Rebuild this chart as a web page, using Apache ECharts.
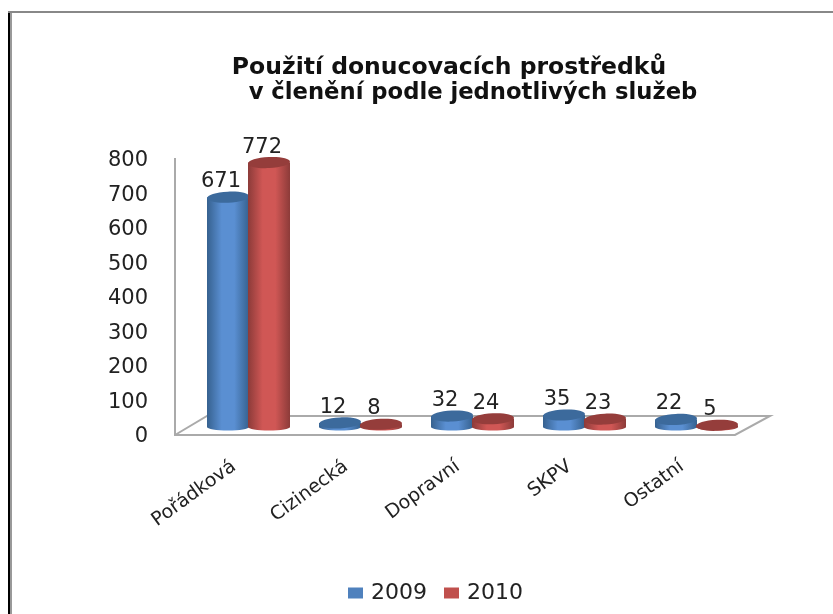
<!DOCTYPE html>
<html>
<head>
<meta charset="utf-8">
<style>
  html, body { margin: 0; padding: 0; background: #fff; }
  #chart { width: 833px; height: 614px; }
</style>
<script src="https://cdn.jsdelivr.net/npm/echarts@6/dist/echarts.min.js"></script>
</head>
<body>
<div id="chart"></div>
<script>
const categories = ['Pořádková', 'Cizinecká', 'Dopravní', 'SKPV', 'Ostatní'];
const values2009 = [671, 12, 32, 35, 22];
const values2010 = [772, 8, 24, 23, 5];
const yTicks = [0, 100, 200, 300, 400, 500, 600, 700, 800];

const textColor = '#222';
const fontName = '"DejaVu Sans", sans-serif';

// válec: tělo s gradientem, spodní a horní elipsa, popisek nad ním
function cylinder(offset, edge, mid, topColor) {
    return function (params, api) {
        const idx = api.value(0);
        const val = api.value(1);
        const base = api.coord([idx, 0]);
        const top = api.coord([idx, val]);
        const cx = base[0] + offset;
        const rx = 21;
        const ry = 5.5;
        const fill = new echarts.graphic.LinearGradient(0, 0, 1, 0, [
            { offset: 0, color: edge },
            { offset: 0.35, color: mid },
            { offset: 0.65, color: mid },
            { offset: 1, color: edge }
        ]);
        return {
            type: 'group',
            children: [
                {
                    type: 'rect',
                    shape: { x: cx - rx, y: top[1], width: rx * 2, height: base[1] - top[1] },
                    style: { fill: fill }
                },
                {
                    type: 'ellipse',
                    shape: { cx: cx, cy: base[1], rx: rx, ry: 3.5 },
                    style: { fill: fill }
                },
                {
                    type: 'ellipse',
                    shape: { cx: cx, cy: top[1], rx: rx, ry: ry },
                    rotation: 0.05,
                    originX: cx,
                    originY: top[1],
                    style: { fill: topColor }
                },
                {
                    type: 'text',
                    style: {
                        x: cx - 7,
                        y: top[1] - 5,
                        text: String(val),
                        fill: textColor,
                        font: '21px ' + fontName,
                        align: 'center',
                        verticalAlign: 'bottom'
                    }
                }
            ]
        };
    };
}

const chart = echarts.init(document.getElementById('chart'));
const option = {
    backgroundColor: '#fff',
    animation: false,
    title: [
        {
            text: 'Použití donucovacích prostředků',
            left: 444,
            top: 51,
            textAlign: 'center',
            textStyle: { color: '#111', fontFamily: fontName, fontWeight: 'bold', fontSize: 23.5 }
        },
        {
            text: 'v členění podle jednotlivých služeb',
            left: 468,
            top: 77,
            textAlign: 'center',
            textStyle: { color: '#111', fontFamily: fontName, fontWeight: 'bold', fontSize: 22.7 }
        }
    ],
    legend: {
        data: ['2009', '2010'],
        left: 343,
        top: 577,
        icon: 'rect',
        itemWidth: 15,
        itemHeight: 11,
        itemGap: 17,
        textStyle: { color: textColor, fontFamily: fontName, fontSize: 22, padding: [0, 0, 0, 3] }
    },
    grid: [
        // přední rovina s popisky osy y
        { left: 175, top: 161, width: 560, height: 276 },
        // rovina válců
        { left: 192.5, top: 153, width: 560, height: 274 }
    ],
    xAxis: [
        {
            type: 'category',
            gridIndex: 0,
            data: categories,
            axisLine: { show: false },
            axisTick: { show: false },
            axisLabel: { show: false }
        },
        {
            type: 'category',
            gridIndex: 1,
            data: categories,
            axisLine: { show: false },
            axisTick: { show: false },
            axisLabel: {
                interval: 0,
                rotate: 36,
                margin: 27,
                padding: [0, 18, 0, 0],
                color: textColor,
                fontFamily: fontName,
                fontSize: 19
            }
        }
    ],
    yAxis: [
        {
            type: 'value',
            gridIndex: 0,
            min: yTicks[0],
            max: yTicks[yTicks.length - 1],
            interval: 100,
            axisLine: { show: false },
            axisTick: { show: false },
            splitLine: { show: false },
            axisLabel: {
                margin: 27,
                color: textColor,
                fontFamily: fontName,
                fontSize: 21
            }
        },
        {
            type: 'value',
            gridIndex: 1,
            min: yTicks[0],
            max: yTicks[yTicks.length - 1],
            interval: 100,
            axisLine: { show: false },
            axisTick: { show: false },
            splitLine: { show: false },
            axisLabel: { show: false }
        }
    ],
    series: [
        {
            name: '2009',
            type: 'custom',
            xAxisIndex: 1,
            yAxisIndex: 1,
            z: 5,
            itemStyle: { color: '#4f81bd' },
            encode: { x: 0, y: 1 },
            data: values2009.map((v, i) => [i, v]),
            renderItem: cylinder(-20.5, '#36618f', '#5a8fd2', '#3c6a9c')
        },
        {
            name: '2010',
            type: 'custom',
            xAxisIndex: 1,
            yAxisIndex: 1,
            z: 6,
            itemStyle: { color: '#c0504d' },
            encode: { x: 0, y: 1 },
            data: values2010.map((v, i) => [i, v]),
            renderItem: cylinder(20.5, '#8c3b39', '#d05755', '#953d3b')
        }
    ],
    graphic: [
        // podlaha grafu a svislá osa
        {
            type: 'polyline',
            z: 1,
            shape: { points: [[175, 158], [175, 435], [735, 435], [770, 416], [207, 416], [175, 435]] },
            style: { stroke: '#aaa', lineWidth: 2, fill: 'none' }
        },
        // rámeček vlevo a nahoře
        { type: 'rect', z: 1, shape: { x: 8, y: 11, width: 2, height: 603 }, style: { fill: '#000' } },
        { type: 'rect', z: 1, shape: { x: 10, y: 11, width: 2, height: 603 }, style: { fill: '#999' } },
        { type: 'rect', z: 1, shape: { x: 8, y: 11, width: 825, height: 2 }, style: { fill: '#888' } }
    ]
};
chart.setOption(option);
</script>
</body>
</html>
